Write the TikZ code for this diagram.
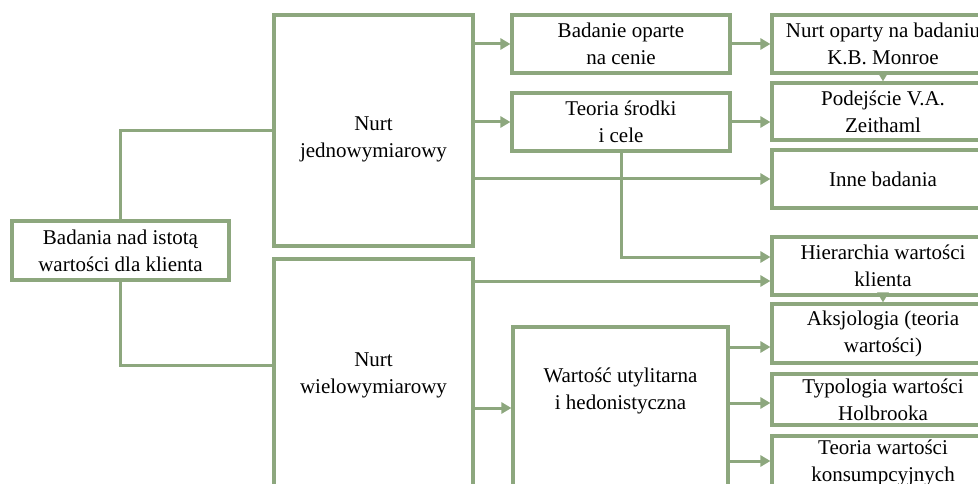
\documentclass[tikz,border=0pt]{standalone}
\usepackage{fontspec}
\setmainfont{Liberation Serif}
\usetikzlibrary{arrows.meta}
\definecolor{sage}{RGB}{141,167,126}
\begin{document}
\begin{tikzpicture}[x=1pt,y=-1pt,
  every node/.style={font=\fontsize{21}{27}\selectfont, align=center, inner sep=0pt},
  box/.style={draw=sage, line width=3.1pt, fill=white},
  link/.style={draw=sage, line width=3pt},
  arr/.style={link, -{Triangle[length=10pt,width=11pt]}},
  rcol/.style={box, minimum width=222pt}]
\useasboundingbox (0,0) rectangle (978,484);
\clip (0,0) rectangle (978,484);

% root
\node[box, minimum width=217pt, minimum height=59pt] (root) at (120.5,250.5)
  {Badania nad istotą\\wartości dla klienta};

% two main streams
\node[box, minimum width=199pt, minimum height=231pt] (nj) at (373.5,130.5) {};
\node (njt) at (373.5,139) {Nurt\\jednowymiarowy};
\node[box, minimum width=199pt, minimum height=232pt] (nw) at (373.5,375)
  {Nurt\\wielowymiarowy};

% middle column
\node[box, minimum width=218pt, minimum height=58pt] (bo) at (621,44)
  {Badanie oparte\\na cenie};
\node[box, minimum width=218pt, minimum height=58pt] (ts) at (621,122)
  {Teoria środki\\i cele};
\node[box, minimum width=215pt, minimum height=193pt] (wu) at (620.5,423.5) {};
\node (wut) at (620.5,391) {Wartość utylitarna\\i hedonistyczna};

% right column
\node[rcol, minimum height=58pt] (no) at (883,44) {Nurt oparty na badaniu\\K.B. Monroe};
\node[rcol, minimum height=57pt] (pz) at (883,111.5) {Podejście V.A.\\Zeithaml};
\node[rcol, minimum height=58pt] (ib) at (883,179) {Inne badania};
\node[rcol, minimum height=58pt] (hk) at (883,266) {Hierarchia wartości\\klienta};
\node[rcol, minimum height=59pt] (ak) at (883,333.5) {Aksjologia (teoria\\wartości)};
\node[rcol, minimum height=51pt] (ty) at (883,399.5) {Typologia wartości\\Holbrooka};
\node[rcol, minimum height=54pt] (tk) at (883,463) {Teoria wartości\\konsumpcyjnych};

% root to streams
\draw[link] (root.north) |- (nj.west);
\draw[link] (root.south) |- ([yshift=10pt]nw.west);

% one-dimensional stream
\draw[arr] (bo.west -| nj.east) -- (bo.west);
\draw[arr] (ts.west -| nj.east) -- (ts.west);
\draw[arr] (ib.west -| nj.east) -- (ib.west);
\draw[arr] (bo.east) -- (no.west);
\draw[arr] (ts.east) -- (ts.east -| pz.west);
\draw[arr] (no.south) -- (pz.north);
\draw[arr] (ts.south) |- ([yshift=9pt]hk.west);

% multi-dimensional stream
\draw[arr] ([yshift=-15pt]hk.west -| nw.east) -- ([yshift=-15pt]hk.west);
\draw[arr] (hk.south) -- (ak.north);
\draw[arr] (nw.east |- 0,408) -- (wu.west |- 0,408);
\draw[arr] (wu.east |- 0,347) -- (ak.west |- 0,347);
\draw[arr] (wu.east |- 0,403) -- (ty.west |- 0,403);
\draw[arr] (wu.east |- 0,461) -- (tk.west |- 0,461);
\end{tikzpicture}
\end{document}
